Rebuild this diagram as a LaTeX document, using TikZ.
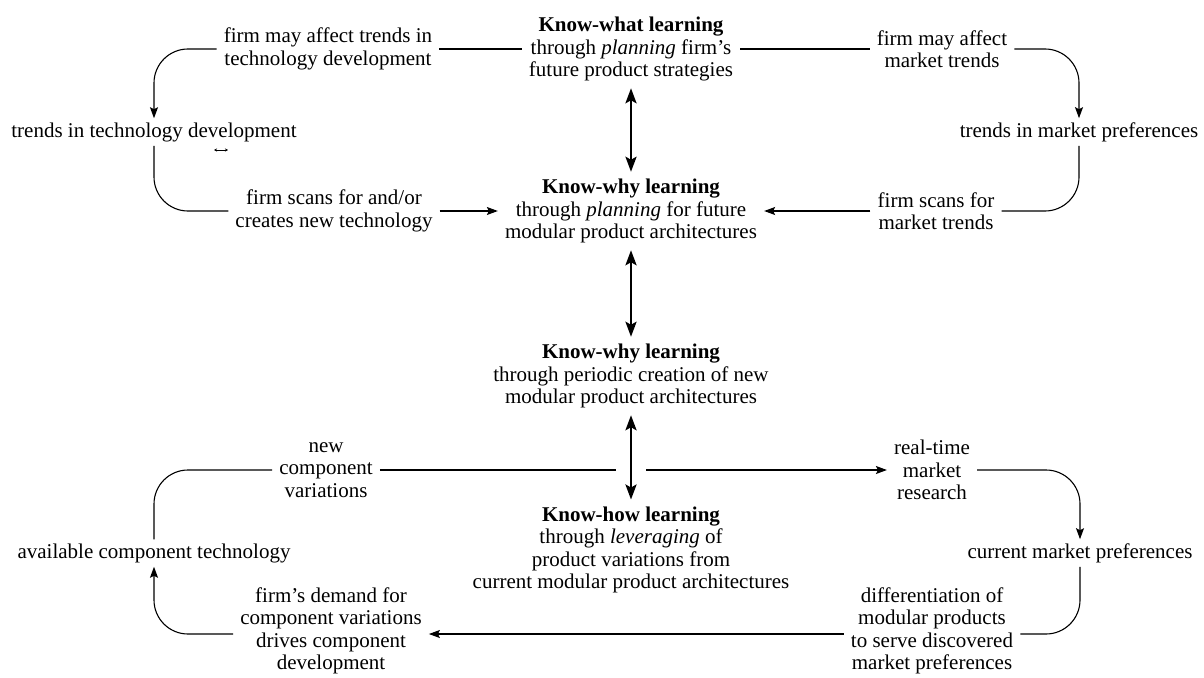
\documentclass[tikz,border=0pt]{standalone}
\usepackage{fontspec}
\setmainfont{Liberation Serif}
\usetikzlibrary{arrows.meta}
\begin{document}
\begin{tikzpicture}[x=1pt,y=-1pt,
  every node/.style={font=\fontsize{21}{22.5}\selectfont},
  lbl/.style={align=center, inner xsep=7pt, inner ysep=4pt},
  conn/.style={line width=1.1pt},
  arr/.style={conn, -{Stealth[length=11pt,width=8pt,inset=2pt]}},
  dbl/.style={line width=2.6pt, {Stealth[length=15pt,width=11pt,inset=3pt]}-{Stealth[length=15pt,width=11pt,inset=3pt]}, shorten >=3pt, shorten <=3pt},
  rc/.style={rounded corners=34pt}]
\useasboundingbox (0,0) rectangle (1204,677);

\node[lbl] (KW) at (631,49) {\textbf{Know-what learning}\\through \textit{planning} firm's\\future product strategies};
\node[lbl] (A1) at (328,49) {firm may affect trends in\\technology development};
\node[lbl] (B1) at (942,49) {firm may affect\\market trends};
\node[lbl] (A2) at (154,132) {trends in technology development};
\node[lbl] (B2) at (1079,132) {trends in market preferences};
\node[lbl] (KY1) at (631,211) {\textbf{Know-why learning}\\through \textit{planning} for future\\modular product architectures};
\node[lbl] (A3) at (334,211) {firm scans for and/or\\creates new technology};
\node[lbl] (B3) at (936,211) {firm scans for\\market trends};
\node[lbl] (KY2) at (631,376) {\textbf{Know-why learning}\\through periodic creation of new\\modular product architectures};
\node[lbl] (KH) at (631,550) {\textbf{Know-how learning}\\through \textit{leveraging} of\\product variations from\\current modular product architectures};
\node[lbl] (C1) at (326,470) {new\\component\\variations};
\node[lbl] (E1) at (932,470) {real-time\\market\\research};
\node[lbl] (C2) at (154,553) {available component technology};
\node[lbl] (E2) at (1080,553) {current market preferences};
\node[lbl] (C3) at (331,631) {firm's demand for\\component variations\\drives component\\development};
\node[lbl] (E3) at (932,631) {differentiation of\\modular products\\to serve discovered\\market preferences};

% top loops
\draw[conn] (A1) -- (KW);
\draw[conn] (KW) -- (B1);
\draw[arr, rc] (A1.west) -| (A2.north);
\draw[arr, rc] (B1.east) -| (B2.north);
\draw[conn, rc] (A2.south) |- (A3.west);
\draw[conn, rc] (B2.south) |- (B3.east);
\draw[arr] (A3) -- (KY1);
\draw[arr] (B3) -- (KY1);

% central column
\draw[dbl] (KW) -- (KY1);
\draw[dbl] (KY1) -- (KY2);
\draw[dbl] (KY2) -- (KH);

% bottom loop
\coordinate (X) at (KH.north |- C1.east);
\draw[conn] (C1) -- ([xshift=-15pt]X);
\draw[arr] ([xshift=15pt]X) -- (E1);
\draw[arr, rc] (E1.east) -| (E2.north);
\draw[conn, rc] (E2.south) |- ([yshift=-3pt]E3.east);
\draw[arr] ([yshift=-3pt]E3.west) -- ([yshift=-3pt]C3.east);
\draw[arr, rc] ([yshift=-3pt]C3.west) -| (C2.south);
\draw[conn, rc] (C2.north) |- (C1.west);

% stray mark
\draw[line width=0.8pt, {Stealth[length=3pt,width=3pt]}-{Stealth[length=3pt,width=3pt]}] (214,150) -- (228,150);
\end{tikzpicture}
\end{document}
